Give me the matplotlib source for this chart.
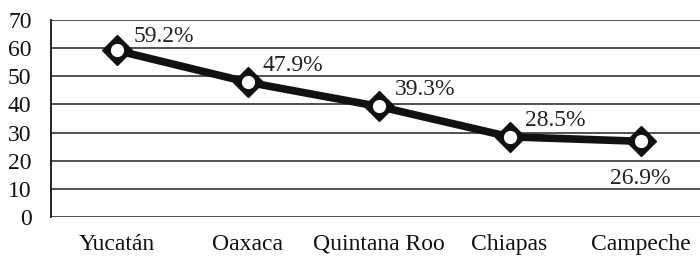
import matplotlib
matplotlib.use("Agg")
import matplotlib.pyplot as plt

states = ["Yucatán", "Oaxaca", "Quintana Roo", "Chiapas", "Campeche"]
values = [59.2, 47.9, 39.3, 28.5, 26.9]
labels = ["59.2%", "47.9%", "39.3%", "28.5%", "26.9%"]
yticks = [0, 10, 20, 30, 40, 50, 60, 70]

plt.rcParams['font.family'] = ['Liberation Serif', 'DejaVu Serif']

W, H = 700, 259
fig = plt.figure(figsize=(W/100, H/100), dpi=100)
left, right = 51/W, 706/W
bottom, top = 1 - 217/H, 1 - 20/H
ax = fig.add_axes([left, bottom, right-left, top-bottom])

x = list(range(len(states)))
ax.set_xlim(-0.5, len(states) - 0.5)
ax.set_ylim(0, 70)
ax.set_yticks(yticks)
ax.yaxis.grid(True, color='#222222', linewidth=1.1)
ax.set_axisbelow(True)
for s in ['top', 'right', 'bottom']:
    ax.spines[s].set_visible(False)
ax.spines['left'].set_linewidth(1.3)
ax.spines['left'].set_color('#111111')
ax.tick_params(axis='both', length=0, labelsize=17, colors='#111111')
ax.tick_params(axis='y', pad=14)
ax.tick_params(axis='x', pad=12)
ax.set_xticks(x)
ax.set_xticklabels(states)

ax.plot(x, values, color='#111111', linewidth=5.5, solid_capstyle='butt', zorder=3)
ax.plot(x, values, linestyle='none', marker='D', markersize=15.5,
        markerfacecolor='#111111', markeredgecolor='#111111', zorder=4)
ax.plot(x, values, linestyle='none', marker='o', markersize=8.5,
        markerfacecolor='white', markeredgecolor='white', zorder=5)

offsets = [(12, 10), (11, 12), (12, 12), (11, 12), (0, -27)]
for i, (v, lab) in enumerate(zip(values, labels)):
    dx, dy = offsets[i]
    ha = 'left' if dx > 0 else 'center'
    ax.annotate(lab, (i, v), xytext=(dx, dy), textcoords='offset points',
                ha=ha, va='center', fontsize=17, color='#222222', zorder=6)

fig.savefig("out.png", dpi=100)
